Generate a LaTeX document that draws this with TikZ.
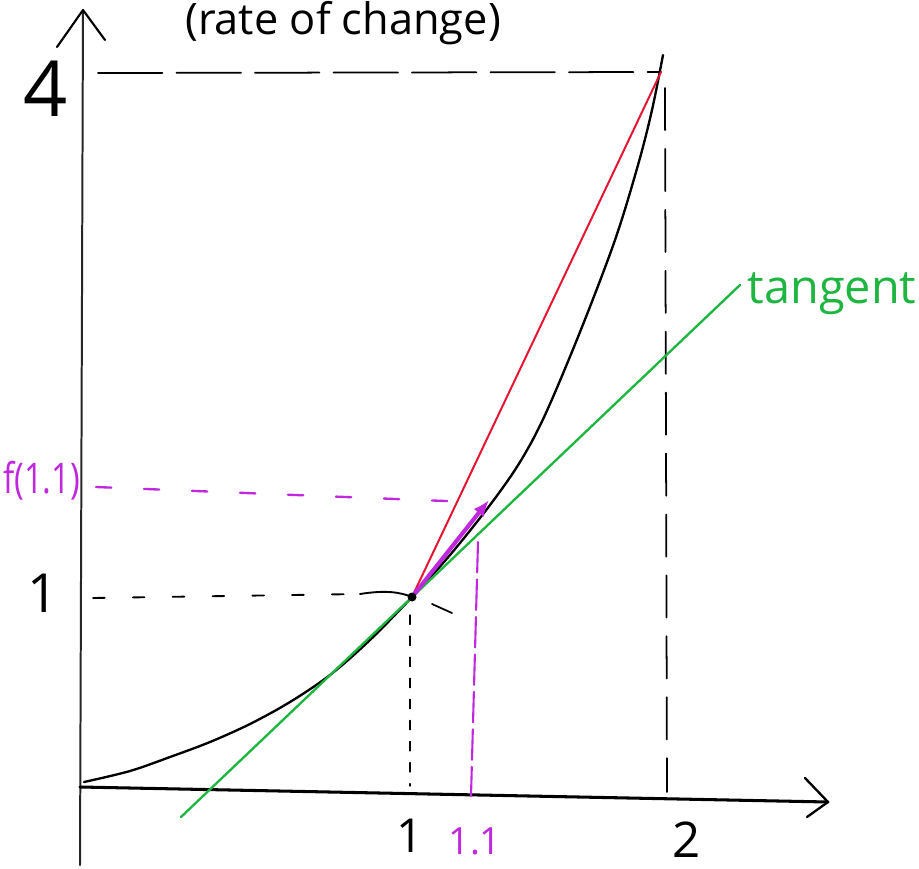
\documentclass[tikz,border=0pt]{standalone}
\usepackage{fontspec}
\setmainfont{Open Sans}
\usetikzlibrary{arrows.meta}
\definecolor{penred}{RGB}{228,22,52}
\definecolor{pengreen}{RGB}{30,182,64}
\definecolor{penmag}{RGB}{192,40,222}
\begin{document}
\begin{tikzpicture}[x=0.03cm,y=-0.03cm,line cap=round,line join=round,
  yaxis/.style={line width=1.7pt,black!85},
  xaxis/.style={line width=2.6pt},
  curvestyle/.style={line width=2pt},
  longdash/.style={line width=1.5pt,dash pattern=on 55pt off 12pt},
  vdash/.style={line width=1.5pt,dash pattern=on 36pt off 16pt},
  shortdash/.style={line width=1.6pt,dash pattern=on 10pt off 24pt},
  tinydash/.style={line width=1.1pt,dash pattern=on 8pt off 10pt},
  magdash/.style={line width=2pt,penmag,dash pattern=on 13pt off 28pt},
  magvdash/.style={line width=1.8pt,penmag,dash pattern=on 26pt off 6pt},
  lab/.style={inner sep=0pt}]
\useasboundingbox (0,0) rectangle (919,869);
\clip (0,0) rectangle (919,869);

% named points
\coordinate (P) at (412,597);
\coordinate (Q) at (661,72);
\coordinate (M) at (489,500);

% title
\node[lab,anchor=base west,font=\fontsize{37}{37}\selectfont] (title) at (185,34) {(rate of change)};

% axes
\coordinate (ytop) at (83,10);
\coordinate (ybot) at (80,865);
\draw[yaxis] (ybot) -- (ytop);
\draw[line width=1.8pt] (57,47) -- (ytop) -- (105,40);
\coordinate (xl) at (80,787);
\coordinate (xr) at (828,802);
\draw[xaxis] (xl) -- (xr);
\draw[line width=2pt] (805,778) -- (xr) -- (807,817);

% guide lines
\draw[longdash] (98,73) -- (Q);
\draw[vdash] (665,88) -- (667,792);
\draw[shortdash] (93,598) -- (360,594);
\draw[line width=1.6pt] (360,594) .. controls (385,590) and (400,592) .. (P);
\draw[line width=1.5pt] (432,604) -- (452,613);
\draw[tinydash] (410,615) -- (410,786);
\draw[magdash] (96,487) -- (470,502);
\draw[magvdash] (478,542) -- (471,796);

% curve
\draw[curvestyle] plot[smooth,tension=0.55] coordinates {(84,782) (130,771) (170,757) (210,742) (250,724) (290,702) (330,675) (370,640) (P) (450,555) (490,505) (520,462) (545,415) (580,332) (615,240) (638,165) (652,110) (663,55)};

% secant
\draw[line width=1.7pt,penred] (P) -- (Q);
% tangent
\coordinate (t1) at (181,817);
\coordinate (t2) at (740,285);
\draw[line width=2pt,pengreen] (t1) -- (t2);
% increment arrow
\draw[line width=3.5pt,penmag,-{Latex[length=14pt,width=11pt]}] (P) -- (M);
\fill (P) circle (4.5);

% labels
\node[lab,font=\fontsize{66}{66}\selectfont] (l4) at (46,89) {4};
\node[lab,font=\fontsize{46}{46}\selectfont] (ly1) at (43,593) {1};
\node[lab,penmag,anchor=west,font=\fontsize{36}{36}\selectfont,xscale=0.78] (lf) at (3,481) {f(1.1)};
\node[lab,font=\fontsize{40}{40}\selectfont] (lx1) at (410,836) {1};
\node[lab,penmag,font=\fontsize{32}{32}\selectfont] (lx11) at (475,841) {1.1};
\node[lab,font=\fontsize{42}{42}\selectfont] (lx2) at (687,840) {2};
\node[lab,pengreen,anchor=base,font=\fontsize{40}{40}\selectfont] (ltan) at (832,303) {tangent};
\end{tikzpicture}
\end{document}
